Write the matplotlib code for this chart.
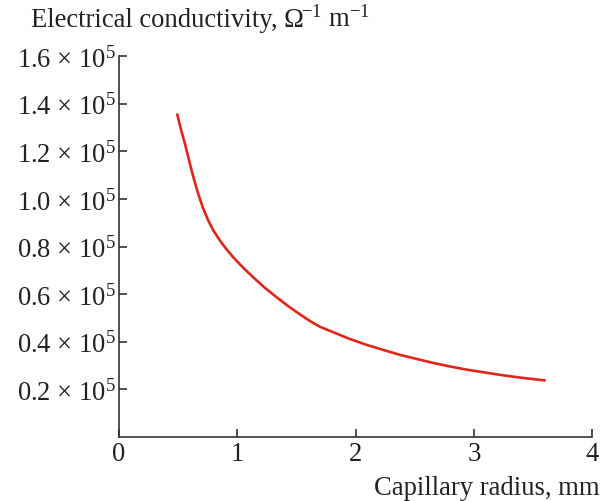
import matplotlib
matplotlib.use("Agg")
import matplotlib.pyplot as plt

plt.rcParams['font.family'] = ['Liberation Serif', 'DejaVu Serif']
plt.rcParams['mathtext.fontset'] = 'custom'
plt.rcParams['mathtext.rm'] = 'Liberation Serif'
plt.rcParams['mathtext.it'] = 'Liberation Serif:italic'
plt.rcParams['mathtext.bf'] = 'Liberation Serif:bold'

radius = [0.493, 0.525, 0.558, 0.586, 0.614, 0.642, 0.670, 0.710, 0.755, 0.800, 0.854, 0.905,
          0.966, 1.050, 1.135, 1.230, 1.333, 1.430, 1.530, 1.615, 1.699, 1.812, 1.950,
          2.094, 2.240, 2.375, 2.516, 2.657, 2.800, 2.939, 3.080, 3.221, 3.400, 3.595]
conductivity = [1.354, 1.290, 1.231, 1.175, 1.119, 1.068, 1.021, 0.962, 0.909, 0.866, 0.825, 0.791,
                0.755, 0.711, 0.671, 0.628, 0.587, 0.550, 0.515, 0.487, 0.463, 0.440, 0.412,
                0.387, 0.365, 0.345, 0.328, 0.311, 0.296, 0.283, 0.272, 0.261, 0.249, 0.238]
x_ticks = [0, 1, 2, 3, 4]
y_ticks = [0.2, 0.4, 0.6, 0.8, 1.0, 1.2, 1.4, 1.6]
y_tick_labels = [r'%.1f × 10$^{\mathregular{5}}$' % v for v in y_ticks]

FS = 19.2
W, H = 605, 502
fig = plt.figure(figsize=(W / 100, H / 100), dpi=100)
ax = fig.add_axes([0.1967, 0.1275, 0.7823, 0.7585])
ax.plot(radius, conductivity, color='#e0261b', lw=1.9, solid_joinstyle='round')
ax.set_xlim(0, 4)
ax.set_ylim(0, 1.6)
ax.set_xticks(x_ticks)
ax.set_xticklabels([str(t) for t in x_ticks])
ax.set_yticks(y_ticks)
ax.set_yticklabels(y_tick_labels)
for s in ['top', 'right']:
    ax.spines[s].set_visible(False)
for s in ['left', 'bottom']:
    ax.spines[s].set_color('#333333')
    ax.spines[s].set_linewidth(1.2)
ax.tick_params(direction='in', length=6, width=1.2, color='#333333', labelsize=FS, labelcolor='#222222', pad=3)
ax.tick_params(axis='y', pad=2)

base_y = 1 - 27 / H
t1 = fig.text(31 / W, base_y, 'Electrical conductivity, Ω', fontsize=FS, color='#222222', ha='left', va='baseline')
fig.canvas.draw()
bb = t1.get_window_extent(renderer=fig.canvas.get_renderer())
fig.text((bb.x1 - 3) / W, base_y, r'$^{\mathregular{-1}}$ m$^{\mathregular{-1}}$', fontsize=FS, color='#222222', ha='left', va='baseline')
fig.text(600 / W, 1 - 495 / H, 'Capillary radius, mm', fontsize=FS, color='#222222', ha='right', va='baseline')

fig.savefig('out.png', dpi=100)
